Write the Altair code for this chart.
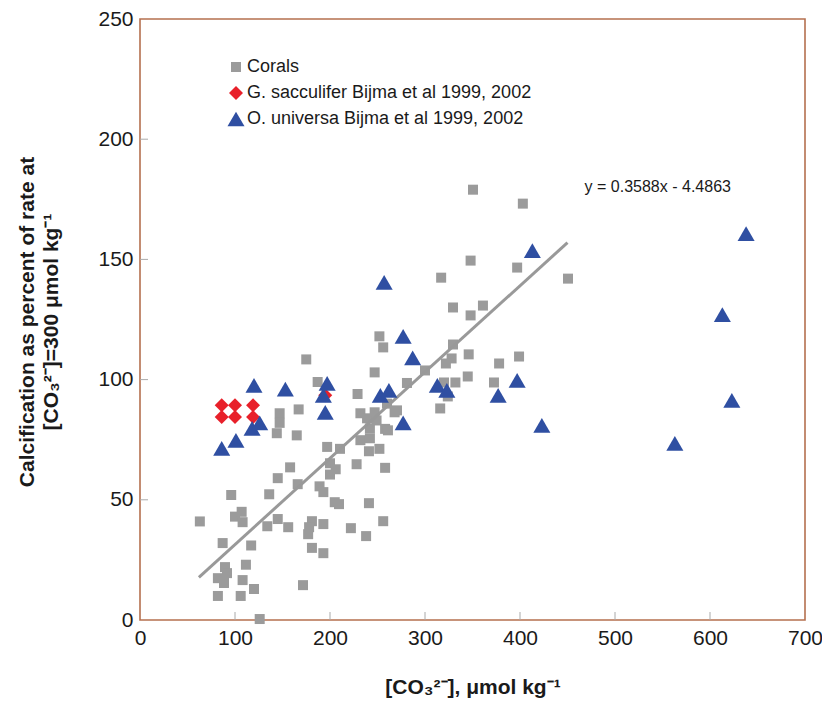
import altair as alt
import pandas as pd

# ---- data ----
coral_x = [63, 96, 87, 100, 107, 108, 117, 111.5, 89.5, 91.6, 82, 88.4, 108, 120, 82, 106, 126,
           134, 145, 156, 136, 145, 158, 166, 165, 144, 147, 147, 167, 187, 175, 229, 247, 281,
           197, 210.5, 189, 193, 200, 206, 200, 228, 258, 205, 209.5, 181, 178, 177, 193, 181,
           193, 171.6, 222, 238, 256, 241, 232, 239, 247, 249, 242, 258, 261, 232, 242, 241,
           252, 268, 260, 316, 324, 332, 252, 256, 300, 270.5, 350.5, 403, 348, 397, 317, 450.5,
           329.5, 361, 348, 329.5, 328, 322, 346, 320, 345, 372.6, 378, 399]
coral_y = [41, 52, 32, 43, 45, 40.7, 31, 23, 22, 19.5, 17.4, 15.4, 16.6, 12.9, 10, 10, 0.4,
           39, 42, 38.6, 52.3, 59, 63.5, 56.5, 76.8, 77.7, 86, 82, 87.6, 99, 108.4, 94, 103, 98.6,
           72, 71.2, 55.6, 53.2, 65.2, 62.7, 60.5, 64.8, 63.3, 49, 48.2, 41.1, 38.6, 35.7, 39.9, 30,
           27.8, 14.5, 38.2, 34.9, 41.1, 48.6, 86, 83.9, 86.4, 83, 79.7, 79.5, 78.9, 74.8, 75.6, 70.2,
           71.2, 86.4, 90, 88, 93, 98.8, 118, 113.4, 103.8, 87.2, 179, 173.2, 149.5, 146.6, 142.4, 142,
           130, 130.8, 126.7, 114.6, 108.8, 106.7, 110.5, 98.8, 101.3, 98.8, 106.7, 109.6]

sacc_x = [86, 86, 100, 100, 119, 119, 195]
sacc_y = [89.3, 84.4, 89.3, 84.4, 89.3, 84.4, 93.5]

univ_x = [86, 101, 118, 126, 120, 153, 193, 195, 197, 253, 257, 262, 277, 277, 287, 313, 323,
          377, 397, 413, 423, 563, 613, 623, 638]
univ_y = [71.4, 74.7, 79.7, 82, 97.6, 96, 93.4, 86.4, 98.4, 93.4, 140.4, 95.5, 118, 82, 109, 97.6,
          95.5, 93.4, 99.7, 153.6, 81, 73.5, 127, 91.4, 160.7]

series_names = ["Corals", "G. sacculifer Bijma et al 1999, 2002", "O. universa Bijma et al 1999, 2002"]
series_colors = ["#9b9b9b", "#e8202a", "#2f4fa2"]
series_shapes = ["square", "diamond", "triangle-up"]
series_sizes = [100, 290, 320]

fit_slope = 0.3588
fit_intercept = -4.4863
fit_x = [62, 450]
fit_label = "y = 0.3588x - 4.4863"

x_ticks = [100, 200, 300, 400, 500, 600]
y_ticks = [50, 100, 150, 200]

# ---- tables ----
rows = []
for name, xs, ys in [(series_names[0], coral_x, coral_y),
                     (series_names[1], sacc_x, sacc_y),
                     (series_names[2], univ_x, univ_y)]:
    for a, b in zip(xs, ys):
        rows.append({"series": name, "x": a, "y": b})
pts = pd.DataFrame(rows)
fit = pd.DataFrame({"x": fit_x, "y": [fit_slope * v + fit_intercept for v in fit_x]})
xt = pd.DataFrame({"v": x_ticks})
yt = pd.DataFrame({"v": y_ticks})
lab = pd.DataFrame({"x": [468], "y": [180], "t": [fit_label]})

FONT = "Liberation Sans"
W, H = 665, 601

xscale = alt.Scale(domain=[0, 700], nice=False, zero=False)
yscale = alt.Scale(domain=[0, 250], nice=False, zero=False)

xaxis = alt.Axis(values=[0, 100, 200, 300, 400, 500, 600, 700], tickSize=0, domain=False, grid=False,
                 labelFlush=False,
                 labelFont=FONT, labelFontSize=21, labelColor="#1a1a1a", labelPadding=7,
                 title="[CO₃²⁻], μmol kg⁻¹", titleFont=FONT, titleFontSize=21, titleFontWeight="bold",
                 titleColor="#1a1a1a", titlePadding=28)
yaxis = alt.Axis(values=[0, 50, 100, 150, 200, 250], tickSize=0, domain=False, grid=False,
                 labelFlush=False,
                 labelFont=FONT, labelFontSize=21, labelColor="#1a1a1a", labelPadding=7,
                 title=["Calcification as percent of rate at", "[CO₃²⁻]=300 μmol kg⁻¹"],
                 titleFont=FONT, titleFontSize=21, titleFontWeight="bold", titleColor="#1a1a1a",
                 titleLineHeight=24, titleX=-103, titleY=H / 2 + 2, titleAlign="center",
                 titleBaseline="bottom", titleAngle=270)

color = alt.Color("series:N", scale=alt.Scale(domain=series_names, range=series_colors),
                  legend=alt.Legend(title=None, orient="none", legendX=87, legendY=39,
                                    labelFont=FONT, labelFontSize=18, labelColor="#1a1a1a",
                                    labelLimit=0, symbolSize=150, symbolStrokeWidth=0,
                                    labelOffset=2, rowPadding=8, padding=0))
shape = alt.Shape("series:N", scale=alt.Scale(domain=series_names, range=series_shapes))
size = alt.Size("series:N", scale=alt.Scale(domain=series_names, range=series_sizes), legend=None)

base_x = alt.X("x:Q", scale=xscale, axis=xaxis)
base_y = alt.Y("y:Q", scale=yscale, axis=yaxis)

corals = alt.Chart(pts).transform_filter(alt.datum.series == series_names[0]).mark_point(
    filled=True, opacity=1, strokeWidth=0).encode(x=base_x, y=base_y, color=color, shape=shape, size=size)

others = alt.Chart(pts).transform_filter(alt.datum.series != series_names[0]).mark_point(
    filled=True, opacity=1, strokeWidth=0).encode(x="x:Q", y="y:Q", color=color, shape=shape, size=size)

line = alt.Chart(fit).mark_line(color="#999999", strokeWidth=3).encode(x="x:Q", y="y:Q")

text = alt.Chart(lab).mark_text(align="left", baseline="middle", font=FONT, fontSize=16,
                                color="#1a1a1a").encode(x="x:Q", y="y:Q", text="t:N")

xticks = alt.Chart(xt).mark_rule(color="#aaaaaa", strokeWidth=1).encode(
    x=alt.X("v:Q"), y=alt.value(H), y2=alt.value(H - 8))
yticks = alt.Chart(yt).mark_rule(color="#aaaaaa", strokeWidth=1).encode(
    y=alt.Y("v:Q"), x=alt.value(0), x2=alt.value(8))

chart = alt.layer(xticks, yticks, corals, line, others, text).properties(
    width=W, height=H,
    background="white",
    autosize=alt.AutoSizeParams(type="none"),
    padding={"left": 132, "top": 11, "right": 17, "bottom": 79},
).configure_view(stroke="#b5704f", strokeWidth=1.6)

chart.save("out.html", embed_options={"renderer": "svg", "actions": False})
